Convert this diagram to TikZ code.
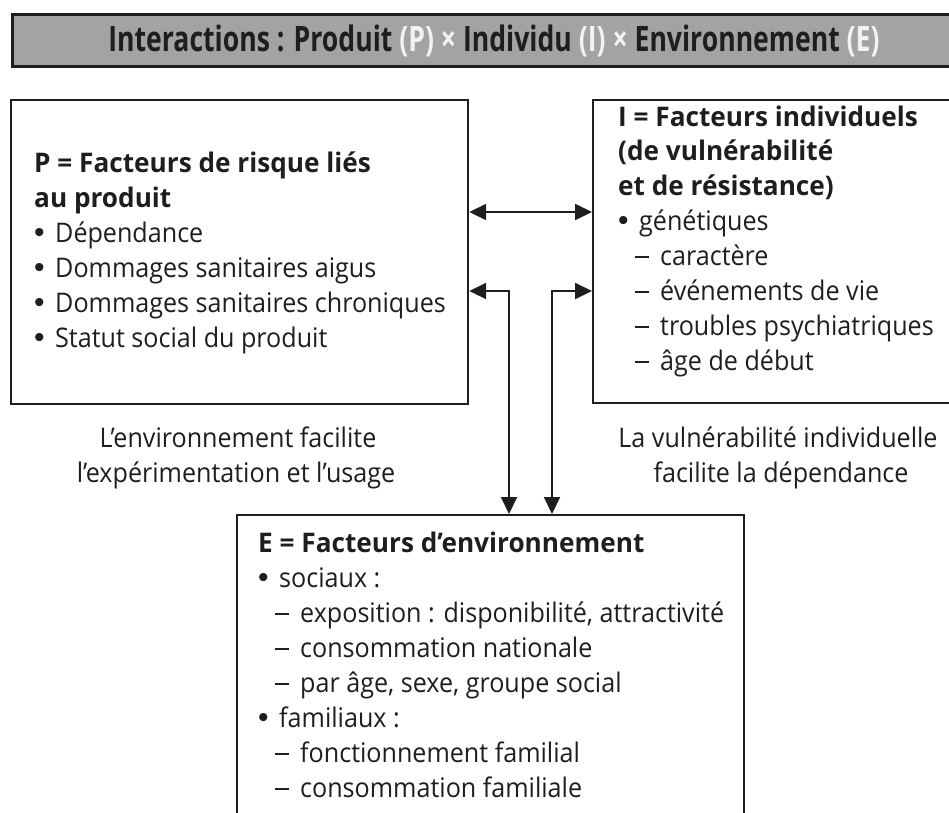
\documentclass[tikz,border=0pt]{standalone}
\usepackage{fontspec}
\setmainfont{Open Sans}[FakeStretch=0.93, BoldFeatures={FakeStretch=0.97}]
\newfontfamily\titlefont{Open Sans}[FakeStretch=0.76]
\newfontfamily\bulfont{Liberation Sans}
\usetikzlibrary{arrows.meta}
\definecolor{ink}{HTML}{1E1E1E}
\definecolor{barfill}{HTML}{A3A3A3}
\definecolor{parw}{HTML}{F2F2F2}
\newcommand\bul{\makebox[21pt][l]{\bulfont\fontsize{30}{35}\selectfont\textbullet}}
\newcommand\tir{\hspace{17pt}\makebox[25pt][l]{\rule[7.5pt]{14pt}{1.7pt}}}
\begin{document}
\begin{tikzpicture}[x=1pt,y=-1pt,
  box/.style={draw=ink, line width=2.2pt, inner sep=0pt, anchor=north west},
  txt/.style={anchor=base west, inner sep=0pt, text=ink, font=\fontsize{27}{35}\selectfont},
  lbl/.style={anchor=base, inner sep=0pt, text=ink, font=\fontsize{27}{35}\selectfont},
  conn/.style={draw=ink, line width=2pt, {Triangle[length=17pt,width=16pt]}-{Triangle[length=17pt,width=16pt]}}]
\useasboundingbox (0,0) rectangle (949,812);
\clip (0,0) rectangle (949,812);
% title bar
\node[box, fill=barfill, line width=2.5pt, minimum width=960pt, minimum height=52pt] (T) at (11,13) {};
\node[anchor=base, inner sep=0pt, text=ink, font=\titlefont\bfseries\fontsize{35}{40}\selectfont] (tt) at (494,51)
  {Interactions : Produit \textcolor{parw}{(P)} \textcolor{parw}{×} Individu \textcolor{parw}{(I)} \textcolor{parw}{×} Environnement \textcolor{parw}{(E)}};
% boxes
\node[box, minimum width=457pt, minimum height=304pt] (P) at (10,99) {};
\node[box, minimum width=380pt, minimum height=303pt] (I) at (592,99) {};
\node[box, minimum width=507pt, minimum height=330pt] (E) at (236,514) {};
% texts P
\foreach \s [count=\k] in {{\bfseries P = Facteurs de risque liés},{\bfseries au produit},
  {\bul Dépendance},{\bul Dommages sanitaires aigus},{\bul Dommages sanitaires chroniques},{\bul Statut social du produit}}
  \node[txt] (p\k) at (34,{172+35*(\k-1)}) {\s};
% texts I
\foreach \s [count=\k] in {{\bfseries I = Facteurs individuels},{\bfseries (de vulnérabilité},{\bfseries et de résistance)},
  {\bul génétiques},{\tir caractère},{\tir événements de vie},{\tir troubles psychiatriques},{\tir âge de début}}
  \node[txt] (i\k) at (618,{126+34.9*(\k-1)}) {\s};
% texts E
\foreach \s [count=\k] in {{\bfseries E = Facteurs d’environnement},{\bul sociaux :},
  {\tir exposition : disponibilité, attractivité},{\tir consommation nationale},{\tir par âge, sexe, groupe social},
  {\bul familiaux :},{\tir fonctionnement familial},{\tir consommation familiale}}
  \node[txt] (e\k) at (258,{552+35*(\k-1)}) {\s};
% labels
\node[lbl] (l1) at (238,447) {L’environnement facilite};
\node[lbl] (l2) at (236,482) {l’expérimentation et l’usage};
\node[lbl] (r1) at (778,447) {La vulnérabilité individuelle};
\node[lbl] (r2) at (781,482) {facilite la dépendance};
% connectors
\draw[conn] (P.east |- 0,212) -- (I.west |- 0,212);
\draw[conn] (P.east |- 0,291) -| (E.north -| 509,0);
\draw[conn] (I.west |- 0,291) -| (E.north -| 552,0);
\end{tikzpicture}
\end{document}
